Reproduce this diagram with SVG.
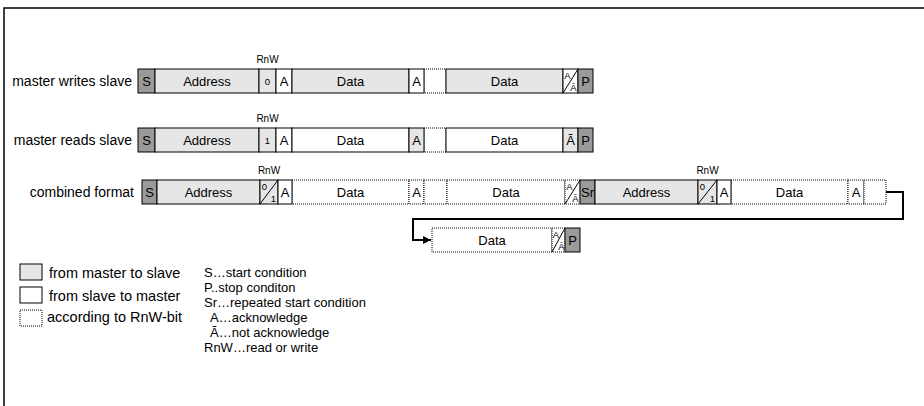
<svg xmlns="http://www.w3.org/2000/svg" width="924" height="406" viewBox="0 0 924 406">
<defs>
<style>
text{font-family:"Liberation Sans",Arial,sans-serif;fill:#000}
.t{font-size:13px;text-anchor:middle}
.lbl{font-size:14px;text-anchor:end}
.rnw{font-size:10px;text-anchor:middle}
.sm{font-size:9.5px;text-anchor:middle}
.leg{font-size:14.5px}
.leg2{font-size:13px}
.dk{fill:#9a9a9a;stroke:#000;stroke-width:1}
.lt{fill:#e6e6e6;stroke:#000;stroke-width:1}
.wh{fill:#fff;stroke:#000;stroke-width:1}
.dt{fill:#fff;stroke:#000;stroke-width:1;stroke-dasharray:1 1}
.dg{stroke:#000;stroke-width:1;fill:none}
.frame{stroke:#000;stroke-width:1.5;fill:none}
.conn{stroke:#000;stroke-width:2;fill:none}
</style>
<marker id="arr" markerWidth="10" markerHeight="10" refX="8" refY="4" orient="auto" markerUnits="userSpaceOnUse">
<path d="M0,0 L8,4 L0,8 Z" fill="#000"/>
</marker>
</defs>
<path class="frame" d="M4,406 V8 H924"/>

<g id="row1">
<text class="lbl" x="132" y="86">master writes slave</text>
<text class="rnw" x="267.5" y="63">RnW</text>
<rect class="dt" x="424" y="69" width="22" height="24"/>
<rect class="dk" x="138" y="69" width="17" height="24"/><text class="t" x="146.5" y="86">S</text>
<rect class="lt" x="155" y="69" width="104" height="24"/><text class="t" x="207" y="86">Address</text>
<rect class="lt" x="259" y="69" width="17" height="24"/><text class="sm" x="267.5" y="85">0</text>
<rect class="wh" x="276" y="69" width="16" height="24"/><text class="t" x="284" y="86">A</text>
<rect class="lt" x="292" y="69" width="117" height="24"/><text class="t" x="350.5" y="86">Data</text>
<rect class="wh" x="409" y="69" width="15" height="24"/><text class="t" x="416.5" y="86">A</text>
<rect class="lt" x="446" y="69" width="117" height="24"/><text class="t" x="504.5" y="86">Data</text>
<rect class="wh" x="563" y="69" width="15" height="24"/><line class="dg" x1="563" y1="93" x2="578" y2="69"/><text class="sm" x="567.5" y="79">A</text><text class="sm" x="573.5" y="91">Ā</text>
<rect class="dk" x="578" y="69" width="15" height="24"/><text class="t" x="585.5" y="86">P</text>
</g>

<g id="row2">
<text class="lbl" x="132" y="145">master reads slave</text>
<text class="rnw" x="267.5" y="122">RnW</text>
<rect class="dt" x="424" y="128" width="22" height="24"/>
<rect class="dk" x="138" y="128" width="17" height="24"/><text class="t" x="146.5" y="145">S</text>
<rect class="lt" x="155" y="128" width="104" height="24"/><text class="t" x="207" y="145">Address</text>
<rect class="lt" x="259" y="128" width="17" height="24"/><text class="sm" x="267.5" y="144">1</text>
<rect class="wh" x="276" y="128" width="16" height="24"/><text class="t" x="284" y="145">A</text>
<rect class="wh" x="292" y="128" width="117" height="24"/><text class="t" x="350.5" y="145">Data</text>
<rect class="lt" x="409" y="128" width="15" height="24"/><text class="t" x="416.5" y="145">A</text>
<rect class="wh" x="446" y="128" width="117" height="24"/><text class="t" x="504.5" y="145">Data</text>
<rect class="lt" x="563" y="128" width="15" height="24"/><text class="t" x="570.5" y="145">Ā</text>
<rect class="dk" x="578" y="128" width="15" height="24"/><text class="t" x="585.5" y="145">P</text>
</g>

<g id="row3">
<text class="lbl" x="134" y="197">combined format</text>
<text class="rnw" x="269" y="174">RnW</text>
<text class="rnw" x="707.5" y="174">RnW</text>
<rect class="dt" x="292" y="180" width="117" height="24"/><text class="t" x="350.5" y="197">Data</text>
<rect class="dt" x="409" y="180" width="15" height="24"/><text class="t" x="416.5" y="197">A</text>
<rect class="dt" x="424" y="180" width="23" height="24"/>
<rect class="dt" x="447" y="180" width="118" height="24"/><text class="t" x="506" y="197">Data</text>
<rect class="dt" x="565" y="180" width="15" height="24"/><line class="dg" x1="565" y1="204" x2="580" y2="180"/><text class="sm" x="569.5" y="190">A</text><text class="sm" x="575.5" y="202">Ā</text>
<rect class="dt" x="731" y="180" width="117" height="24"/><text class="t" x="789.5" y="197">Data</text>
<rect class="dt" x="848" y="180" width="16" height="24"/><text class="t" x="856" y="197">A</text>
<rect class="dt" x="864" y="180" width="22" height="24"/>
<rect class="dk" x="142" y="180" width="15" height="24"/><text class="t" x="149.5" y="197">S</text>
<rect class="lt" x="157" y="180" width="103" height="24"/><text class="t" x="208.5" y="197">Address</text>
<rect class="lt" x="260" y="180" width="18" height="24"/><line class="dg" x1="260" y1="204" x2="278" y2="180"/><text class="sm" x="264.5" y="190">0</text><text class="sm" x="273.5" y="202">1</text>
<rect class="wh" x="278" y="180" width="14" height="24"/><text class="t" x="285" y="197">A</text>
<rect class="dk" x="580" y="180" width="15" height="24"/><text class="t" x="587.5" y="197">Sr</text>
<rect class="lt" x="595" y="180" width="103" height="24"/><text class="t" x="646.5" y="197">Address</text>
<rect class="lt" x="698" y="180" width="19" height="24"/><line class="dg" x1="698" y1="204" x2="717" y2="180"/><text class="sm" x="702.5" y="190">0</text><text class="sm" x="712.5" y="202">1</text>
<rect class="wh" x="717" y="180" width="14" height="24"/><text class="t" x="724" y="197">A</text>
</g>

<g id="row4">
<rect class="dt" x="432" y="228" width="120" height="24"/><text class="t" x="492" y="245">Data</text>
<rect class="dt" x="552" y="228" width="13" height="24"/><line class="dg" x1="552" y1="252" x2="565" y2="228"/><text class="sm" x="556" y="238">A</text><text class="sm" x="561.5" y="250">Ā</text>
<rect class="dk" x="565" y="228" width="15" height="24"/><text class="t" x="572.5" y="245">P</text>
</g>

<g id="connectors">
<polyline class="conn" points="886,192 903,192 903,219 413,219 413,240 431,240" marker-end="url(#arr)"/>
</g>

<g id="legend">
<rect class="lt" x="20" y="264" width="22" height="16"/>
<text class="leg" x="49" y="278">from master to slave</text>
<rect class="wh" x="20" y="287" width="22" height="16"/>
<text class="leg" x="49" y="301">from slave to master</text>
<rect class="dt" x="20" y="310" width="22" height="16"/>
<text class="leg" x="47" y="322">according to RnW-bit</text>
<text class="leg2" x="204" y="277">S…start condition</text>
<text class="leg2" x="204" y="292">P..stop conditon</text>
<text class="leg2" x="204" y="307">Sr…repeated start condition</text>
<text class="leg2" x="210" y="322">A…acknowledge</text>
<text class="leg2" x="210" y="337">Ā…not acknowledge</text>
<text class="leg2" x="204" y="352">RnW…read or write</text>
</g>
</svg>
